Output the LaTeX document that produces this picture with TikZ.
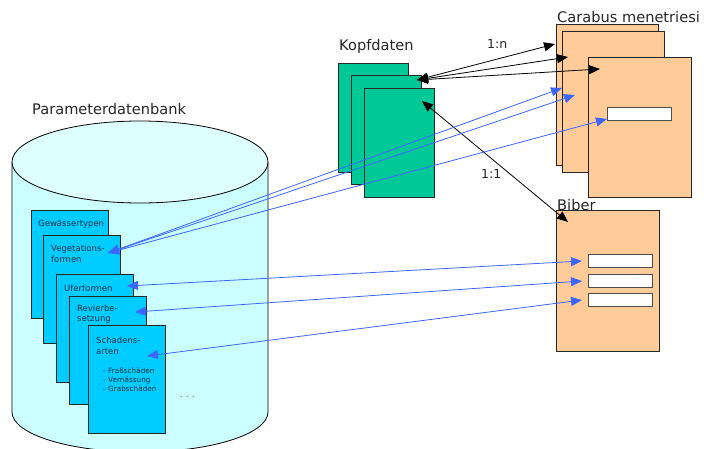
\documentclass[tikz,border=0pt]{standalone}
\usepackage{fontspec}
\setmainfont{DejaVu Sans}
\usetikzlibrary{arrows.meta}
\definecolor{dbside}{HTML}{CCFFFF}
\definecolor{dbtop}{HTML}{DDFFFF}
\definecolor{tablefill}{HTML}{00CCFF}
\definecolor{headfill}{HTML}{00C896}
\definecolor{recfill}{HTML}{FFCC99}
\definecolor{linkblue}{HTML}{3D66FF}
\definecolor{tabtext}{HTML}{1A3040}
\definecolor{labeltext}{HTML}{262626}
\begin{document}
\begin{tikzpicture}[x=1pt,y=-1pt,
  sheet/.style={draw=black!85,line width=0.8pt,anchor=north west,inner sep=0pt},
  tablebox/.style={sheet,fill=tablefill,minimum width=77pt,minimum height=108pt},
  headbox/.style={sheet,fill=headfill,minimum width=70pt,minimum height=109pt},
  recbox/.style={sheet,fill=recfill,minimum width=102pt,minimum height=141pt},
  fieldbox/.style={draw=black!70,line width=0.8pt,fill=white,anchor=north west,inner sep=0pt,minimum width=64pt,minimum height=13pt},
  biglabel/.style={anchor=west,inner sep=0pt,font=\fontsize{14.6}{16}\selectfont,text=labeltext},
  ratio/.style={anchor=west,inner sep=0pt,font=\fontsize{12.5}{14}\selectfont,text=labeltext},
  tabtitle/.style={anchor=west,inner sep=0pt,align=left,font=\fontsize{8.5}{10.6}\selectfont,text=tabtext},
  tabitems/.style={anchor=north west,inner sep=0pt,align=left,font=\fontsize{7.3}{9}\selectfont,text=tabtext},
  bluelink/.style={draw=linkblue,line width=0.8pt,{Triangle[length=11pt,width=9pt]}-{Triangle[length=11pt,width=9pt]}},
  blacklink/.style={draw=black,line width=0.8pt,{Triangle[length=11pt,width=9pt]}-{Triangle[length=11pt,width=9pt]}}]
\useasboundingbox (0,0) rectangle (704,448);

% database cylinder
\path[fill=dbside,draw=black,line width=0.8pt]
  (12,162) -- (12,412) arc[start angle=180,end angle=0,x radius=128,y radius=40]
  -- (268,162);
\path[fill=dbtop,draw=black,line width=0.8pt] (140,162) ellipse[x radius=128,y radius=41];
\node[biglabel] (dblabel) at (32,109) {Parameterdatenbank};

% parameter tables inside the database
\node[tablebox] (gew) at (31,210) {};
\node[tablebox] (veg) at (43,235) {};
\node[tablebox] (ufer) at (56,274) {};
\node[tablebox] (rev) at (69,296) {};
\node[tablebox] (schad) at (88,325) {};
\node[tabtitle] (gewt) at (38,224) {Gewässertypen};
\node[tabtitle] (vegt) at (51,254) {Vegetations-\\formen};
\node[tabtitle] (ufert) at (64,288) {Uferformen};
\node[tabtitle] (revt) at (77,314) {Revierbe-\\setzung};
\node[tabtitle] (schadt) at (96,346) {Schadens-\\arten};
\node[tabitems] (schadl) at (103,368) {- Fraßschäden\\- Vernässung\\- Grabschäden};
\node[tabitems] (dots) at (180,396) {·\,\,\,·\,\,\,·};

% header records
\node[biglabel] (kopflabel) at (339,46) {Kopfdaten};
\node[headbox] (kopf1) at (338,63) {};
\node[headbox] (kopf2) at (351,75) {};
\node[headbox] (kopf3) at (364,88) {};

% species records
\node[recbox] (car1) at (556,24) {};
\node[recbox] (car2) at (562,31) {};
\node[recbox,minimum width=103pt,minimum height=140pt] (car3) at (588,57) {};
\node[fieldbox] (carf) at (607,107) {};
\node[biglabel] (carlabel) at (557,17) {Carabus menetriesi};

\node[recbox,minimum width=103pt] (biber) at (556,210) {};
\node[fieldbox] (bf1) at (588,254) {};
\node[fieldbox] (bf2) at (588,274) {};
\node[fieldbox] (bf3) at (588,293) {};
\node[biglabel] (biberlabel) at (557,205) {Biber};

% connector end points
\coordinate (kN) at (417,80);
\coordinate (kO) at (422,101);
\coordinate (c1) at (555,44);
\coordinate (c2) at (568,57);
\coordinate (c3) at (600,69);
\coordinate (bN) at (568,222);
\coordinate (vegP) at (108,253);
\coordinate (b1) at (562,88);
\coordinate (b2) at (575,95);
\coordinate (b3) at (607,119);
\coordinate (uferP) at (127,286);
\coordinate (revP) at (135,312);
\coordinate (schadP) at (147,356);
\coordinate (f1) at (582,261);
\coordinate (f2) at (582,281);
\coordinate (f3) at (582,300);

% relations between header and species records
\draw[blacklink] (kN) -- (c1);
\draw[blacklink] (kN) -- (c2);
\draw[blacklink] (kN) -- (c3);
\draw[blacklink] (kO) -- (bN);
\node[ratio] (rn) at (487,44) {1:n};
\node[ratio] (r1) at (481,174) {1:1};

% references into the parameter tables
\draw[bluelink] (vegP) -- (b1);
\draw[bluelink] (vegP) -- (b2);
\draw[bluelink] (vegP) -- (b3);
\draw[bluelink] (uferP) -- (f1);
\draw[bluelink] (revP) -- (f2);
\draw[bluelink] (schadP) -- (f3);
\end{tikzpicture}
\end{document}
